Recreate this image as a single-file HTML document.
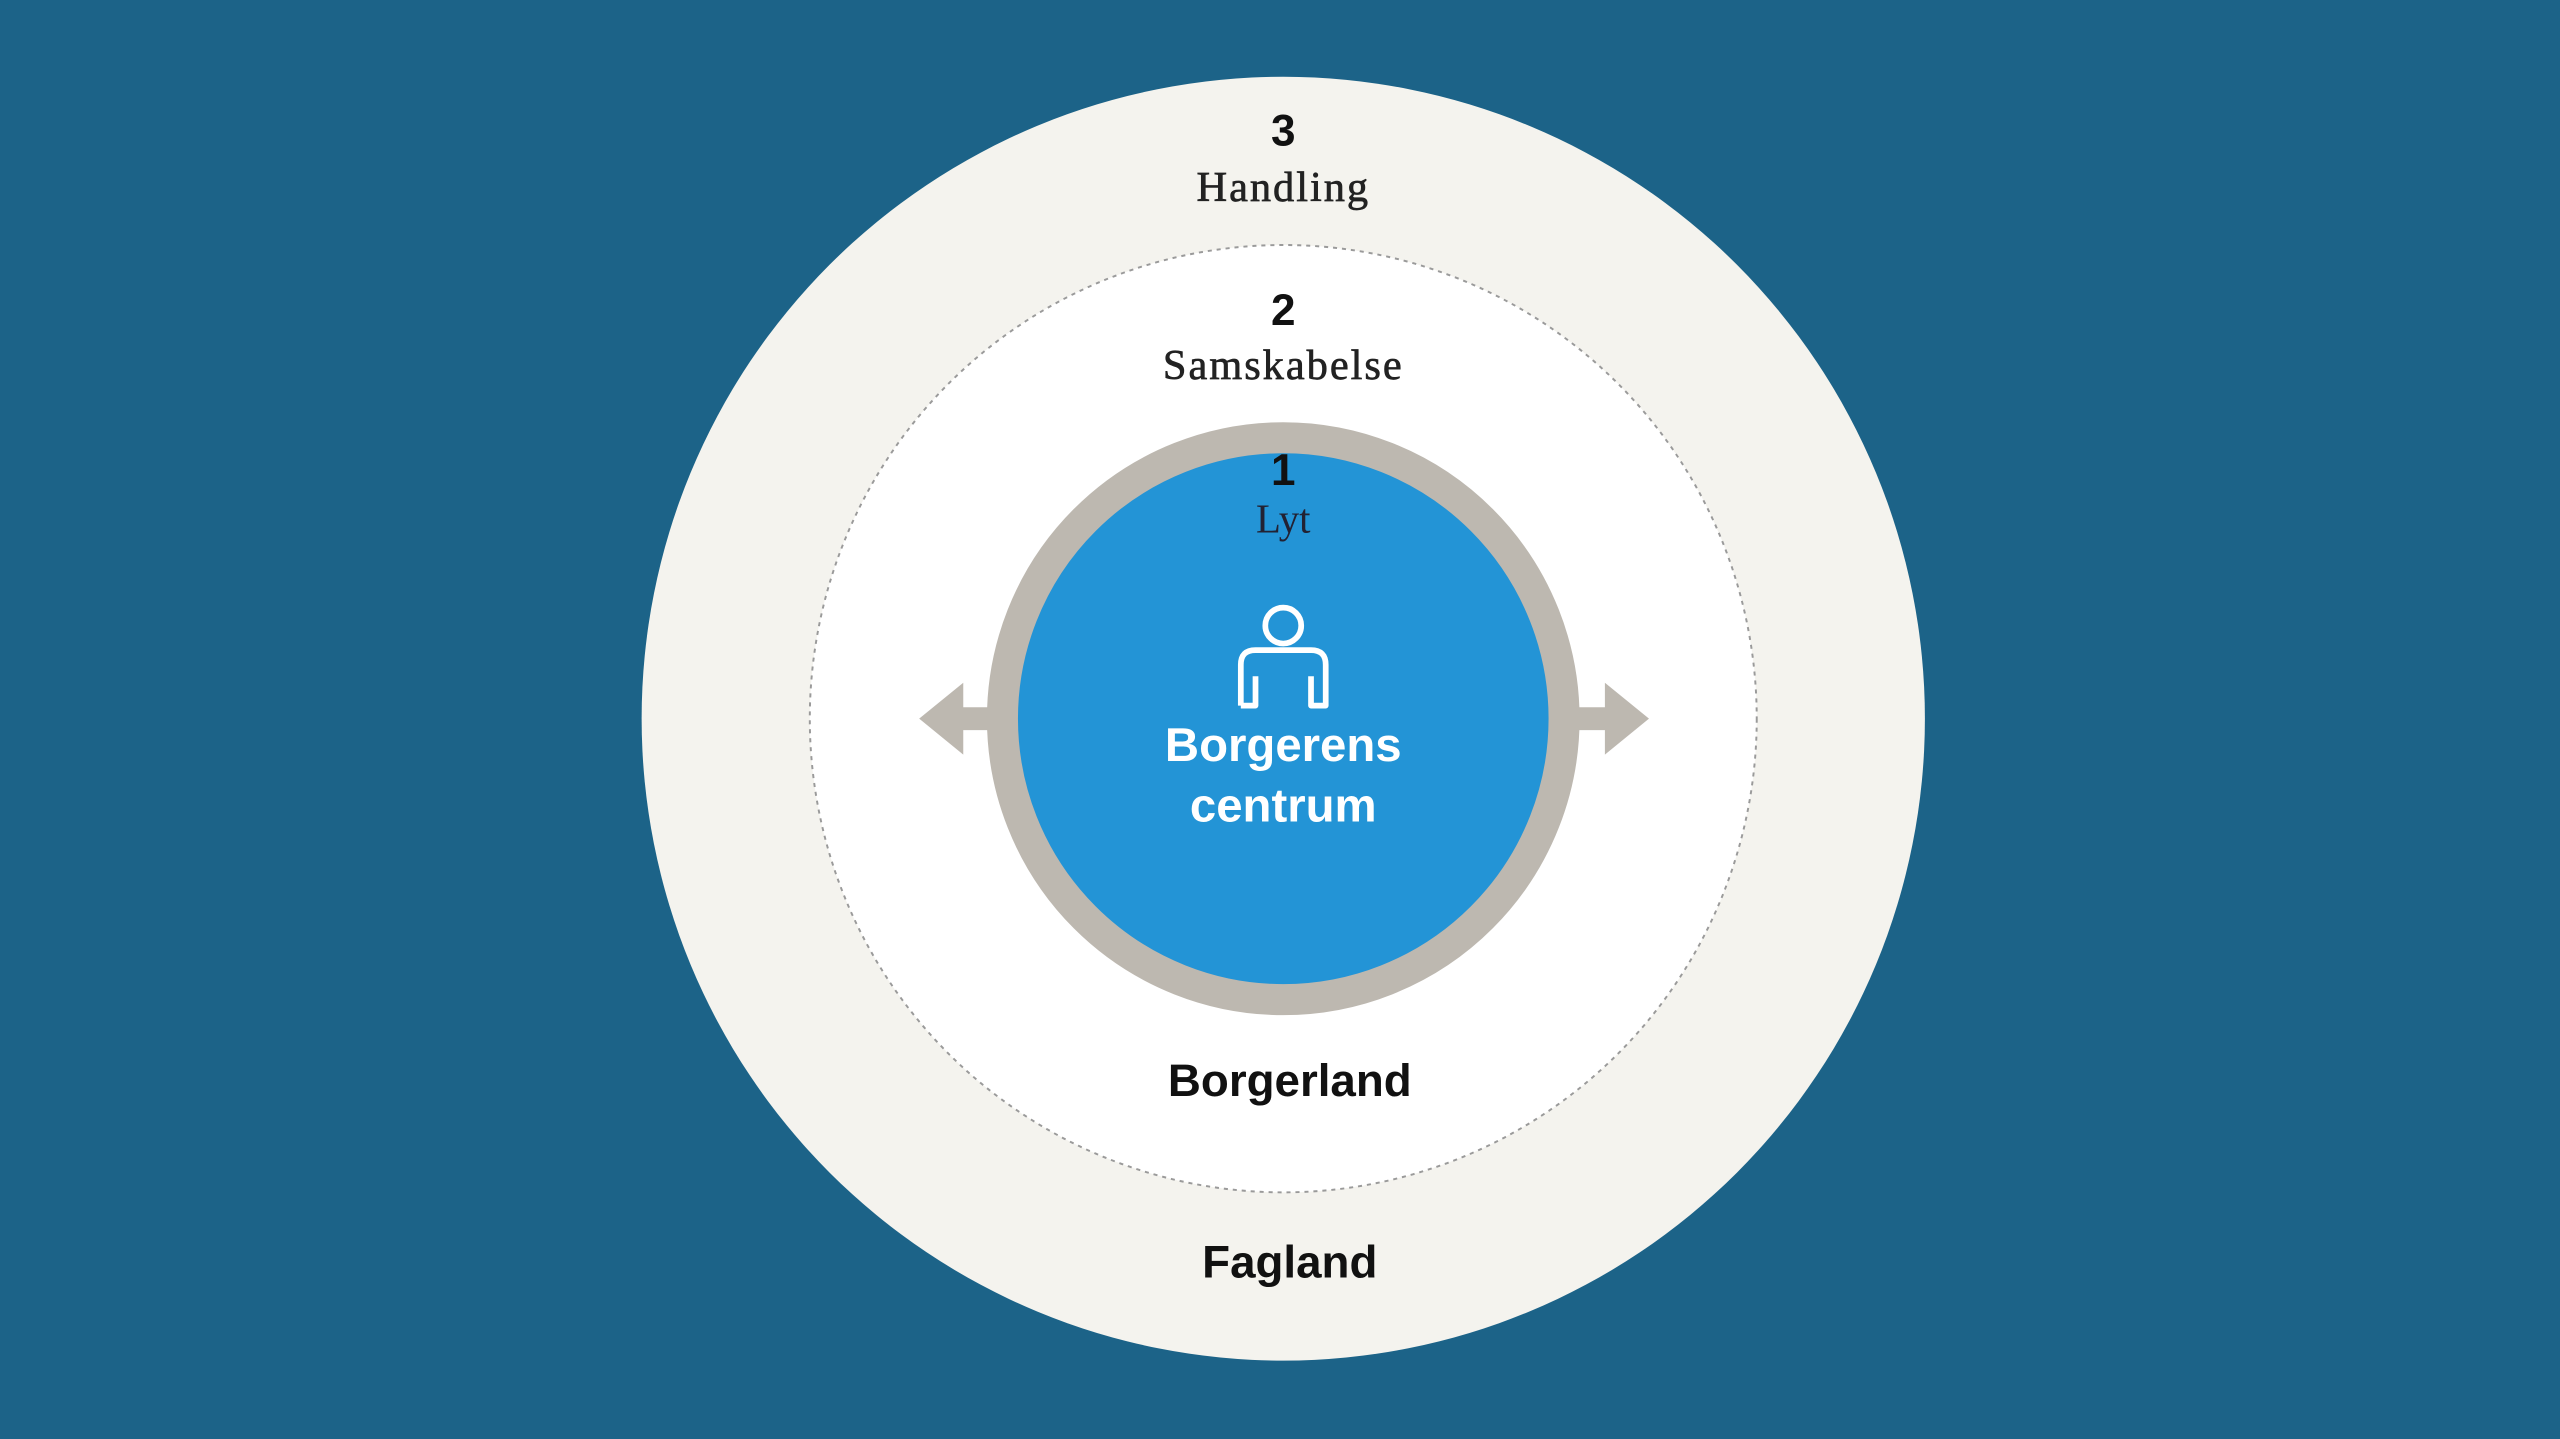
<!DOCTYPE html>
<html><head><meta charset="utf-8"><style>html,body{margin:0;padding:0;background:#1c6388;overflow:hidden}svg{display:block}</style></head>
<body>
<svg width="2560" height="1439" viewBox="0 0 1568 881" preserveAspectRatio="none" xmlns="http://www.w3.org/2000/svg">
<rect width="1568" height="881" fill="#1c6388"/>
<circle cx="786" cy="440" r="393" fill="#f4f3ee"/>
<circle cx="786" cy="440" r="290" fill="#ffffff" stroke="#9a9a9a" stroke-width="1.2" stroke-dasharray="2.5,3"/>
<polygon points="563,440 590,418 590,433 612,433 612,447 590,447 590,462" fill="#bdb8b0"/>
<polygon points="1010,440 983,418 983,433 960,433 960,447 983,447 983,462" fill="#bdb8b0"/>
<circle cx="786" cy="440" r="172" fill="#2394d6" stroke="#bdb8b0" stroke-width="19"/>
<g font-family="'Liberation Sans',sans-serif" text-anchor="middle">
<text x="786" y="89" font-size="27" font-weight="bold" fill="#111">3</text>
<text x="786" y="123" font-size="26" font-family="'Liberation Serif',serif" fill="#222" letter-spacing="1.2" stroke="#222" stroke-width="0.4">Handling</text>
<text x="786" y="199" font-size="27" font-weight="bold" fill="#111">2</text>
<text x="786" y="232" font-size="26" font-family="'Liberation Serif',serif" fill="#222" letter-spacing="1.2" stroke="#222" stroke-width="0.4">Samskabelse</text>
<text x="786" y="297" font-size="27" font-weight="bold" fill="#111">1</text>
<text x="786" y="326" font-size="25" font-family="'Liberation Serif',serif" fill="#223">Lyt</text>
<text x="786" y="466" font-size="29" font-weight="bold" fill="#fff">Borgerens</text>
<text x="786" y="503" font-size="29" font-weight="bold" fill="#fff">centrum</text>
<text x="790" y="671" font-size="28" font-weight="bold" fill="#111">Borgerland</text>
<text x="790" y="782" font-size="28" font-weight="bold" fill="#111">Fagland</text>
</g>
<g fill="none" stroke="#fff" stroke-width="3.5" stroke-linejoin="round">
<circle cx="786" cy="383" r="11"/>
<path d="M760,432 V407 Q760,398 769,398 H803 Q812,398 812,407 V432 H803 V414 M769,414 V432 H760"/>
</g>
</svg>
</body></html>
